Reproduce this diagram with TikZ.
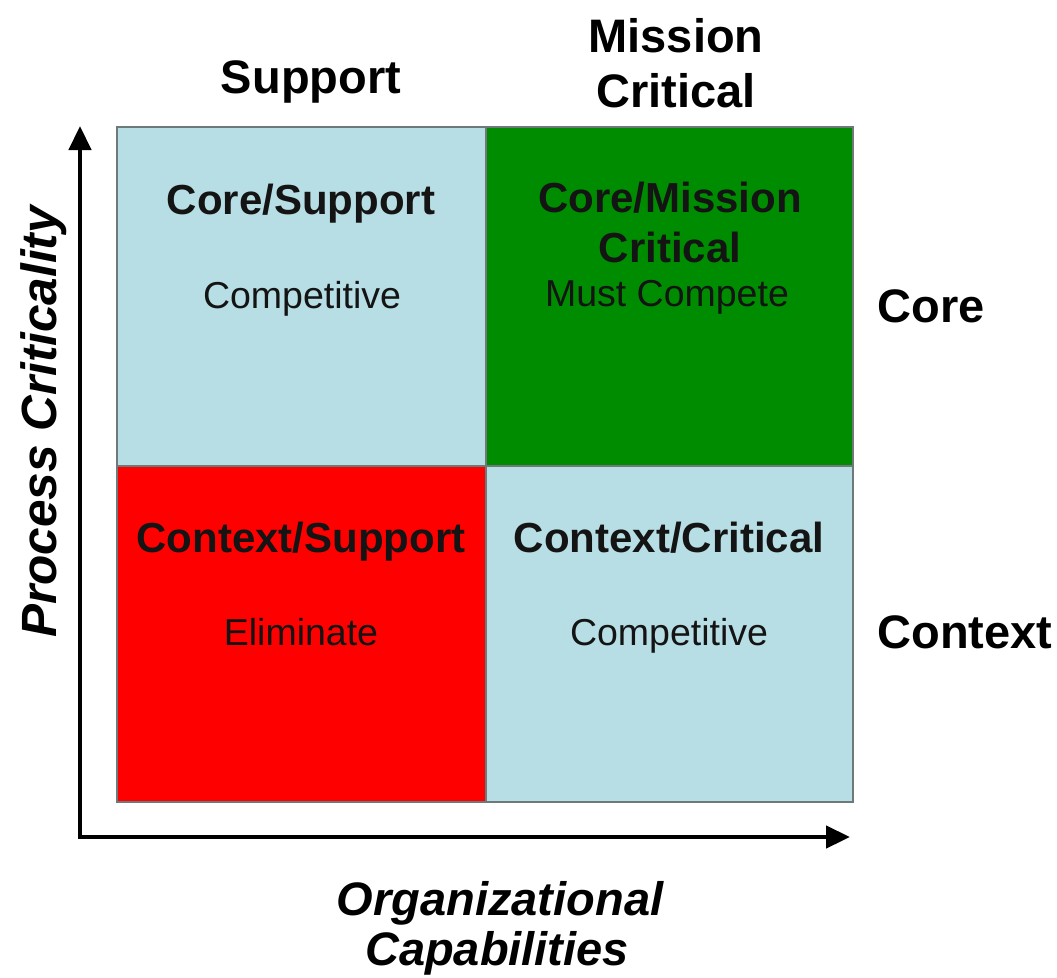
\documentclass[tikz,border=0pt]{standalone}
\usepackage{fontspec}
\setmainfont{Liberation Sans}
\usetikzlibrary{arrows.meta}
\definecolor{lblue}{RGB}{183,222,228}
\definecolor{dgreen}{RGB}{0,140,0}
\definecolor{cellred}{RGB}{255,0,0}
\definecolor{edgegray}{RGB}{110,122,122}
\definecolor{ink}{RGB}{20,20,20}
\tikzset{
  cellbox/.style={draw=edgegray, line width=1.5pt},
  ttl/.style={font=\fontsize{42}{48}\selectfont\bfseries, anchor=base, inner sep=0pt, text=ink},
  subt/.style={font=\fontsize{37.5}{44}\selectfont, anchor=base, inner sep=0pt, text=ink},
  hdr/.style={font=\fontsize{47}{55}\selectfont\bfseries, anchor=base, inner sep=0pt},
  axlabel/.style={font=\fontsize{47}{55}\selectfont\bfseries\itshape, anchor=base, inner sep=0pt},
  axisline/.style={line width=4.5pt, -{Triangle[width=22pt,length=24pt]}}
}
\begin{document}
\begin{tikzpicture}[x=1pt,y=-1pt]
\useasboundingbox (0,0) rectangle (1057,977);
% cells
\fill[lblue]   (117,127) rectangle (486,466);
\fill[dgreen]  (486,127) rectangle (853,466);
\fill[cellred] (117,466) rectangle (486,802);
\fill[lblue]   (486,466) rectangle (853,802);
\draw[cellbox] (117,127) rectangle (853,802);
\draw[cellbox] (486,127) -- (486,802);
\draw[cellbox] (117,466) -- (853,466);
% axes
\coordinate (origin) at (80,838);
\coordinate (ytip) at (80,126);
\coordinate (xorig) at (78,837);
\coordinate (xtip) at (850,837);
\draw[axisline] (origin) -- (ytip);
\draw[axisline] (xorig) -- (xtip);
% column headers
\node[hdr] (hsupport) at (311,93) {Support};
\node[hdr] (hmission) at (676,52) {Mission};
\node[hdr] (hcritical) at (676,107) {Critical};
% row headers
\node[hdr] (hcore) at (931,322) {Core};
\node[hdr] (hcontext) at (965,648) {Context};
% cell texts
\node[ttl] (t11) at (301,214) {Core/Support};
\node[subt] (s11) at (302,308) {Competitive};
\node[ttl] (t12a) at (670,212) {Core/Mission};
\node[ttl] (t12b) at (670,262) {Critical};
\node[subt] (s12) at (667,306) {Must Compete};
\node[ttl] (t21) at (301,552) {Context/Support};
\node[subt] (s21) at (301,645) {Eliminate};
\node[ttl] (t22) at (669,552) {Context/Critical};
\node[subt] (s22) at (669,645) {Competitive};
% axis labels
\node[axlabel] (xl1) at (500,915) {Organizational};
\node[axlabel] (xl2) at (497,965) {Capabilities};
\node[axlabel, rotate=90, font=\fontsize{49.5}{55}\selectfont\bfseries\itshape] (yl) at (56,422) {Process Criticality};
\end{tikzpicture}
\end{document}
